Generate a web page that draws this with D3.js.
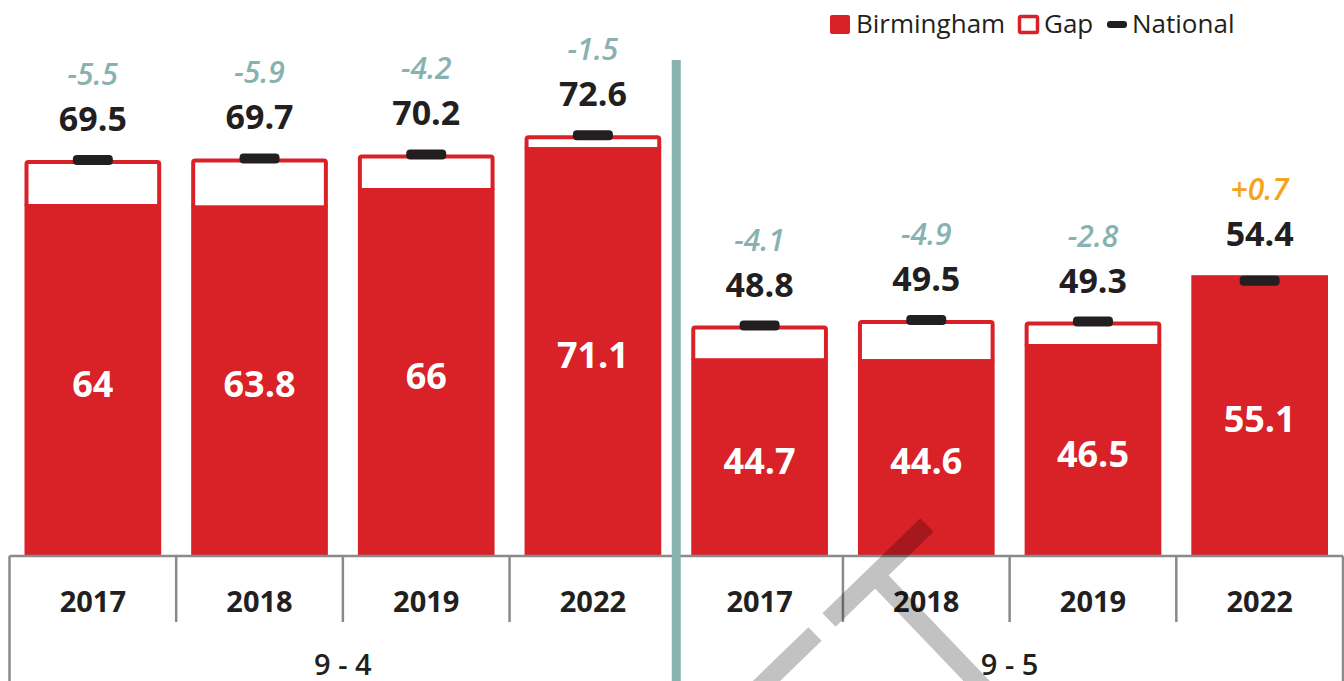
<!DOCTYPE html>
<html>
<head>
<meta charset="utf-8">
<script src="https://cdn.jsdelivr.net/npm/d3@7"></script>
<style>
  body { margin: 0; background: #fff; }
  svg { display: block; font-family: 'Open Sans', sans-serif; }
</style>
</head>
<body>
<script>
const w = 1344
const h = 681

// data
const groups = ['9 - 4', '9 - 5']
const years = ['2017', '2018', '2019', '2022']
const birmingham94 = [64, 63.8, 66, 71.1]
const national94 = [69.5, 69.7, 70.2, 72.6]
const gapLabels94 = ['-5.5', '-5.9', '-4.2', '-1.5']
const birmingham95 = [44.7, 44.6, 46.5, 55.1]
const national95 = [48.8, 49.5, 49.3, 54.4]
const gapLabels95 = ['-4.1', '-4.9', '-2.8', '+0.7']

const red = '#d92128'
const teal = '#87b2b0'
const axisGrey = '#8a8a8a'

const rows = []
groups.forEach(function (g, gi) {
    const b = gi === 0 ? birmingham94 : birmingham95
    const n = gi === 0 ? national94 : national95
    const gl = gi === 0 ? gapLabels94 : gapLabels95
    years.forEach(function (y, i) {
        rows.push({ key: g + '|' + y, group: g, year: y, birm: b[i], nat: n[i], gap: gl[i] })
    })
})

const baseY = 556
const left = 9.5
const right = 1343

const xScale = d3.scaleBand()
    .domain(rows.map(function (d) { return d.key }))
    .range([left, right])
    .paddingInner(0.18)
    .paddingOuter(0.09)

const yScale = d3.scaleLinear()
    .domain([20, 80])
    .range([baseY, baseY - 60 * 8])

const svg = d3.select('body').append('svg')
    .attr('width', w)
    .attr('height', h)

// bars
const bar = svg.selectAll('g.bar')
    .data(rows)
    .enter()
    .append('g')
    .attr('class', 'bar')

// gap box (white with red border) between Birmingham and National
bar.filter(function (d) { return d.nat > d.birm })
    .append('rect')
    .attr('x', function (d) { return xScale(d.key) + 2 })
    .attr('y', function (d) { return yScale(d.nat) + 2 })
    .attr('width', xScale.bandwidth() - 4)
    .attr('height', function (d) { return yScale(d.birm) - yScale(d.nat) })
    .attr('rx', 2)
    .attr('fill', '#fff')
    .attr('stroke', red)
    .attr('stroke-width', 4)

bar.append('rect')
    .attr('x', function (d) { return xScale(d.key) })
    .attr('y', function (d) { return yScale(d.birm) })
    .attr('width', xScale.bandwidth())
    .attr('height', function (d) { return baseY - yScale(d.birm) })
    .attr('fill', red)

// national marker
bar.append('rect')
    .attr('x', function (d) { return xScale(d.key) + xScale.bandwidth() / 2 - 20 })
    .attr('y', function (d) { return yScale(d.nat) - 5 })
    .attr('width', 40)
    .attr('height', 10)
    .attr('rx', 4)
    .attr('fill', '#231f20')

// Birmingham value inside bar
bar.append('text')
    .attr('x', function (d) { return xScale(d.key) + xScale.bandwidth() / 2 })
    .attr('y', function (d) { return (yScale(d.birm) + baseY) / 2 + 3 })
    .attr('text-anchor', 'middle')
    .attr('dominant-baseline', 'central')
    .attr('fill', '#fff')
    .attr('font-size', 36)
    .attr('font-weight', 700)
    .text(function (d) { return d.birm })

// national value above
function topY (d) { return yScale(Math.max(d.nat, d.birm)) }

bar.append('text')
    .attr('x', function (d) { return xScale(d.key) + xScale.bandwidth() / 2 })
    .attr('y', function (d) { return topY(d) - 29 })
    .attr('text-anchor', 'middle')
    .attr('fill', '#231f20')
    .attr('font-size', 34)
    .attr('font-weight', 700)
    .text(function (d) { return d.nat })

// gap label
bar.append('text')
    .attr('x', function (d) { return xScale(d.key) + xScale.bandwidth() / 2 })
    .attr('y', function (d) { return topY(d) - 75 })
    .attr('text-anchor', 'middle')
    .attr('fill', function (d) { return d.gap.charAt(0) === '+' ? '#f4a31f' : teal })
    .attr('font-size', 30)
    .attr('font-weight', 600)
    .attr('font-style', 'italic')
    .text(function (d) { return d.gap })

// category axis
const step = xScale.step()
const axis = svg.append('g')
    .attr('stroke', axisGrey)
    .attr('stroke-width', 2.5)
    .attr('fill', 'none')

axis.append('line')
    .attr('x1', left).attr('x2', right)
    .attr('y1', baseY).attr('y2', baseY)

d3.range(rows.length + 1).forEach(function (i) {
    const full = i % years.length === 0
    axis.append('line')
        .attr('x1', left + i * step).attr('x2', left + i * step)
        .attr('y1', baseY).attr('y2', full ? h : 622)
})

svg.selectAll('text.year')
    .data(rows)
    .enter()
    .append('text')
    .attr('class', 'year')
    .attr('x', function (d) { return xScale(d.key) + xScale.bandwidth() / 2 })
    .attr('y', 612)
    .attr('text-anchor', 'middle')
    .attr('fill', '#231f20')
    .attr('font-size', 29)
    .attr('font-weight', 700)
    .text(function (d) { return d.year })

svg.selectAll('text.group')
    .data(groups)
    .enter()
    .append('text')
    .attr('class', 'group')
    .attr('x', function (d, i) { return left + (i + 0.5) * years.length * step })
    .attr('y', 675)
    .attr('text-anchor', 'middle')
    .attr('fill', '#231f20')
    .attr('font-size', 29)
    .attr('font-weight', 600)
    .text(function (d) { return d })

// teal divider between the groups
svg.append('rect')
    .attr('x', left + years.length * step - 4.5)
    .attr('y', 60)
    .attr('width', 9)
    .attr('height', h - 60)
    .attr('fill', teal)

// legend
const legend = svg.append('g').attr('font-size', 26).attr('fill', '#231f20')
legend.append('rect').attr('x', 830).attr('y', 15).attr('width', 20).attr('height', 19).attr('rx', 2).attr('fill', red)
legend.append('text').attr('x', 856).attr('y', 33).text('Birmingham')
legend.append('rect').attr('x', 1019.5).attr('y', 16.5).attr('width', 18).attr('height', 16).attr('rx', 1.5)
    .attr('fill', '#fff').attr('stroke', red).attr('stroke-width', 3.5)
legend.append('text').attr('x', 1044).attr('y', 33).text('Gap')
legend.append('rect').attr('x', 1107).attr('y', 21).attr('width', 20).attr('height', 7).attr('rx', 3).attr('fill', '#231f20')
legend.append('text').attr('x', 1132).attr('y', 33).text('National')

// watermark stroke over the bottom
const mark = svg.append('g')
    .attr('opacity', 0.235)
    .attr('stroke', '#000')
    .attr('stroke-width', 19)
mark.append('line').attr('x1', 927).attr('y1', 525).attr('x2', 829).attr('y2', 620)
mark.append('line').attr('x1', 815).attr('y1', 634).attr('x2', 752).attr('y2', 695)
mark.append('line').attr('x1', 880).attr('y1', 580).attr('x2', 990).attr('y2', 695)
</script>
</body>
</html>
